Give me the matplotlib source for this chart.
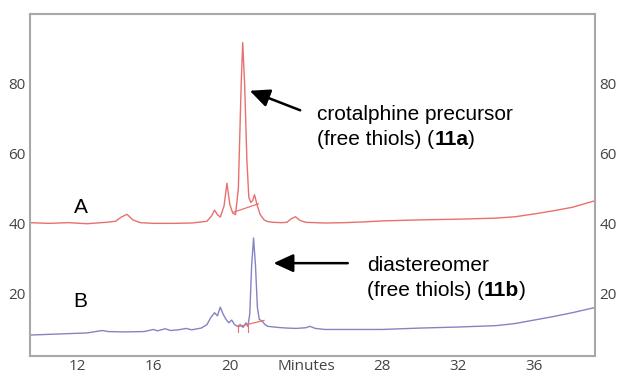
import matplotlib.pyplot as plt
from matplotlib.transforms import offset_copy

# trace A (upper, red) - minutes / response
time_a = [9.5, 10.5, 11.5, 12.5, 13.5, 14.0, 14.3, 14.6, 14.9, 15.3, 16.0, 17.0, 18.0,
          18.8, 19.05, 19.2, 19.35, 19.5, 19.7, 19.85, 20.0, 20.15, 20.3, 20.45, 20.6,
          20.68, 20.78, 20.9, 21.0, 21.1, 21.2, 21.3, 21.45, 21.6, 21.8, 22.0, 22.3,
          22.7, 23.0, 23.2, 23.45, 23.7, 24.0, 25.0, 26.0, 27.0, 28.0, 30.0, 32.0,
          34.0, 35.0, 36.0, 37.0, 38.0, 39.2]
resp_a = [40.2, 40.0, 40.2, 39.9, 40.3, 40.6, 41.8, 42.6, 41.0, 40.2, 40.0, 40.0, 40.1,
          40.6, 42.2, 43.8, 42.5, 41.8, 45.0, 51.5, 45.5, 43.0, 42.5, 50.0, 80.0,
          91.8, 80.0, 58.0, 47.5, 46.0, 46.5, 48.2, 45.0, 42.5, 41.0, 40.5, 40.3,
          40.2, 40.3, 41.2, 41.9, 40.8, 40.3, 40.1, 40.2, 40.4, 40.7, 41.0, 41.2,
          41.5, 41.9, 42.7, 43.6, 44.6, 46.5]

# trace B (lower, blue)
time_b = [9.5, 10.5, 11.5, 12.5, 13.3, 13.6, 14.5, 15.5, 16.0, 16.2, 16.6, 16.9, 17.3,
          17.7, 18.0, 18.5, 18.8, 19.0, 19.2, 19.35, 19.5, 19.65, 19.8, 19.95, 20.1,
          20.25, 20.4, 20.55, 20.7, 20.85, 20.95, 21.05, 21.15, 21.25, 21.35, 21.45,
          21.55, 21.7, 21.85, 22.0, 22.5, 23.0, 23.5, 24.0, 24.2, 24.5, 25.0, 26.0,
          28.0, 30.0, 32.0, 34.0, 35.0, 36.0, 37.0, 38.0, 39.2]
resp_b = [8.0, 8.2, 8.4, 8.6, 9.3, 9.0, 8.9, 9.0, 9.6, 9.2, 9.8, 9.3, 9.5,
          9.9, 9.5, 10.0, 11.0, 13.0, 14.4, 13.5, 16.0, 14.0, 12.5, 11.5, 12.3,
          11.0, 10.5, 11.0, 10.2, 11.5, 10.5, 14.0, 28.0, 35.8, 28.0, 16.0,
          12.5, 12.0, 11.0, 10.5, 10.2, 10.0, 9.9, 10.1, 10.5, 9.9, 9.6, 9.6,
          9.6, 10.0, 10.3, 10.7, 11.3, 12.3, 13.3, 14.4, 15.9]

# integration baselines drawn by the software
base_a_t = [20.2, 21.5]
base_a_y = [43.2, 45.6]
base_b_t = [20.45, 21.8]
base_b_y = [10.4, 12.2]

x_ticks = [12, 16, 20, 24, 28, 32, 36]
x_labels = ['12', '16', '20', 'Minutes', '28', '32', '36']
y_ticks = [20, 40, 60, 80]

red = '#e8706e'
blue = '#8583c4'
font = 'Liberation Sans'

fig = plt.figure(figsize=(6.18, 3.73), dpi=100)
ax = fig.add_axes([0.0485, 0.0456, 0.9145, 0.917])

ax.plot(time_a, resp_a, color=red, lw=1.0)
ax.plot(base_a_t, base_a_y, color=red, lw=0.9)
ax.plot(time_b, resp_b, color=blue, lw=1.0)
ax.plot(base_b_t, base_b_y, color=red, lw=0.9)
ax.plot([20.45, 20.45], [9.0, 11.0], color=red, lw=0.8)
ax.plot([20.95, 20.95], [9.0, 11.0], color=red, lw=0.8)

ax.set_xlim(9.5, 39.2)
ax.set_ylim(2, 100)

ax.set_xticks(x_ticks)
ax.set_xticklabels(x_labels)
ax.set_yticks(y_ticks)
ax.tick_params(length=0, labelsize=11, labelcolor='#444444',
               right=True, labelright=True)
ax.tick_params(axis='x', pad=2)
ax.tick_params(axis='y', pad=3)
for lab in ax.get_xticklabels() + ax.get_yticklabels():
    lab.set_family('Open Sans')
for s in ax.spines.values():
    s.set_color('#a8a8a8')
    s.set_linewidth(1.5)

ax.text(11.8, 42.9, 'A', fontsize=15, family=font)
ax.text(11.8, 16.0, 'B', fontsize=15, family=font)

arrow = dict(arrowstyle='-|>,head_width=0.55,head_length=1.2', color='black', lw=1.8,
             shrinkA=0, shrinkB=0)
ax.annotate('', xy=(21.05, 78.0), xytext=(23.7, 72.4), arrowprops=arrow)
ax.annotate('', xy=(22.3, 28.6), xytext=(26.2, 28.6), arrowprops=arrow)

r = fig.canvas.get_renderer()


def label(x, y, first, second, bold):
    # two-line label, the compound number in bold at the end of line 2
    ax.text(x, y, first, fontsize=15, family=font, va='baseline')
    dx = 0
    for piece, weight in [(second + ' (', 'normal'), (bold, 'bold'), (')', 'normal')]:
        tr = offset_copy(ax.transData, fig=fig, x=dx, y=0, units='dots')
        t = ax.text(x, y - 7.2, piece, fontsize=15, family=font, fontweight=weight,
                    va='baseline', transform=tr)
        dx += t.get_window_extent(r).width


label(24.6, 69.6, 'crotalphine precursor', '(free thiols)', '11a')
label(27.2, 26.3, 'diastereomer', '(free thiols)', '11b')

fig.savefig('out.png', dpi=100)
